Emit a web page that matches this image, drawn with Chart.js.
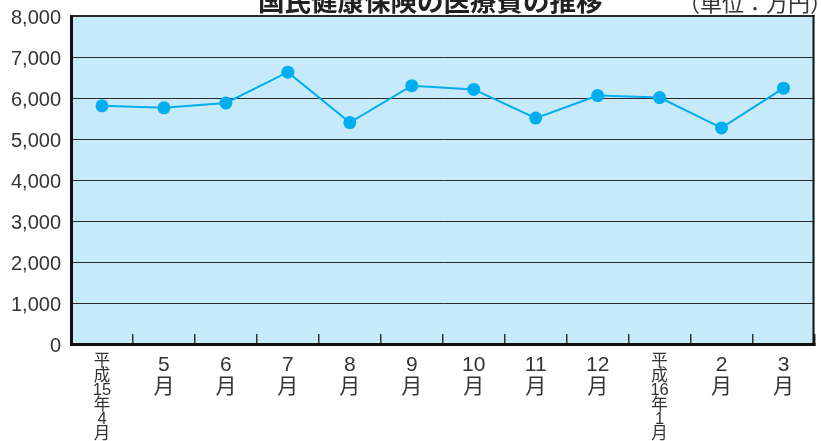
<!DOCTYPE html>
<html><head><meta charset="utf-8">
<script src="https://cdn.jsdelivr.net/npm/chart.js@4.4.1/dist/chart.umd.min.js"></script>
<style>
html,body{margin:0;padding:0;background:#fff;overflow:hidden;}
#wrap{position:relative;width:821px;height:441px;}
#chart{position:absolute;left:0;top:0;}
#title{position:absolute;left:258px;top:-13px;font-family:'Noto Sans CJK JP',sans-serif;font-weight:bold;font-size:26.5px;line-height:26px;color:#222;white-space:nowrap;}
#unit{position:absolute;left:678px;top:-10px;font-family:'Noto Sans CJK JP',sans-serif;font-size:22px;line-height:22px;color:#333;white-space:nowrap;}
</style></head>
<body>
<div id="wrap">
<canvas id="chart" width="821" height="441"></canvas>
<div id="title">国民健康保険の医療費の推移</div>
<div id="unit">（単位：万円）</div>
</div>
<script>
const categories = [
  ['平','成','15','年','4','月'], ['5','月'], ['6','月'], ['7','月'], ['8','月'], ['9','月'],
  ['10','月'], ['11','月'], ['12','月'], ['平','成','16','年','1','月'], ['2','月'], ['3','月']
];
const medicalCost = [5810, 5760, 5880, 6630, 5400, 6300, 6210, 5510, 6060, 6010, 5270, 6240];
const yTickValues = [0, 1000, 2000, 3000, 4000, 5000, 6000, 7000, 8000];

const FONT = "'Liberation Sans', 'Noto Sans CJK JP', sans-serif";

const areaStyle = {
  id: 'areaStyle',
  beforeDraw(chart) {
    const {ctx, chartArea: a} = chart;
    ctx.save();
    ctx.fillStyle = '#c6eafa';
    ctx.fillRect(a.left, a.top, a.right - a.left, a.bottom - a.top);
    ctx.restore();
  },
  beforeDatasetsDraw(chart) {
    const {ctx, chartArea: a} = chart;
    ctx.save();
    ctx.strokeStyle = '#111';
    ctx.lineWidth = 2;
    ctx.beginPath();
    ctx.moveTo(a.right - 1, a.top - 1);
    ctx.lineTo(a.right - 1, a.bottom);
    ctx.stroke();
    ctx.restore();
  }
};

new Chart(document.getElementById('chart'), {
  type: 'line',
  data: {
    labels: categories,
    datasets: [{
      data: medicalCost,
      borderColor: '#00aeef',
      borderWidth: 2,
      backgroundColor: '#00aeef',
      pointBackgroundColor: '#00aeef',
      pointBorderWidth: 0,
      pointRadius: 6.5,
      tension: 0,
      fill: false
    }]
  },
  options: {
    responsive: false,
    animation: false,
    layout: {padding: {top: 16, right: 4, left: 0, bottom: 0}},
    plugins: {legend: {display: false}, tooltip: {enabled: false}, title: {display: false}},
    scales: {
      x: {
        offset: true,
        afterFit(s) { s.height = 97; s.paddingLeft = 0; s.paddingRight = 0; },
        border: {display: true, color: '#111', width: 3},
        grid: {offset: true, drawOnChartArea: false, drawTicks: true, tickLength: -10, color: '#333', lineWidth: 1.5},
        ticks: {
          autoSkip: false, maxRotation: 0, minRotation: 0, padding: 20.5, color: '#333',
          font: (c) => (c.index === 0 || c.index === 9)
            ? {family: FONT, size: 16.5, lineHeight: 14.5 / 16.5}
            : {family: FONT, size: 21, lineHeight: 22 / 21}
        }
      },
      y: {
        min: 0, max: 8000,
        afterFit(s) { s.width = 71; s.paddingTop = 0; s.paddingBottom = 0; },
        afterBuildTicks(s) { s.ticks = yTickValues.map(v => ({value: v})); },
        border: {display: true, color: '#111', width: 3},
        grid: {drawTicks: false, color: '#2a2a2a', lineWidth: (c) => (c.tick && c.tick.value === 8000) ? 2 : 1},
        ticks: {padding: 10, labelOffset: 2, color: '#333', font: {family: FONT, size: 20}}
      }
    }
  },
  plugins: [areaStyle]
});
</script>
</body></html>
